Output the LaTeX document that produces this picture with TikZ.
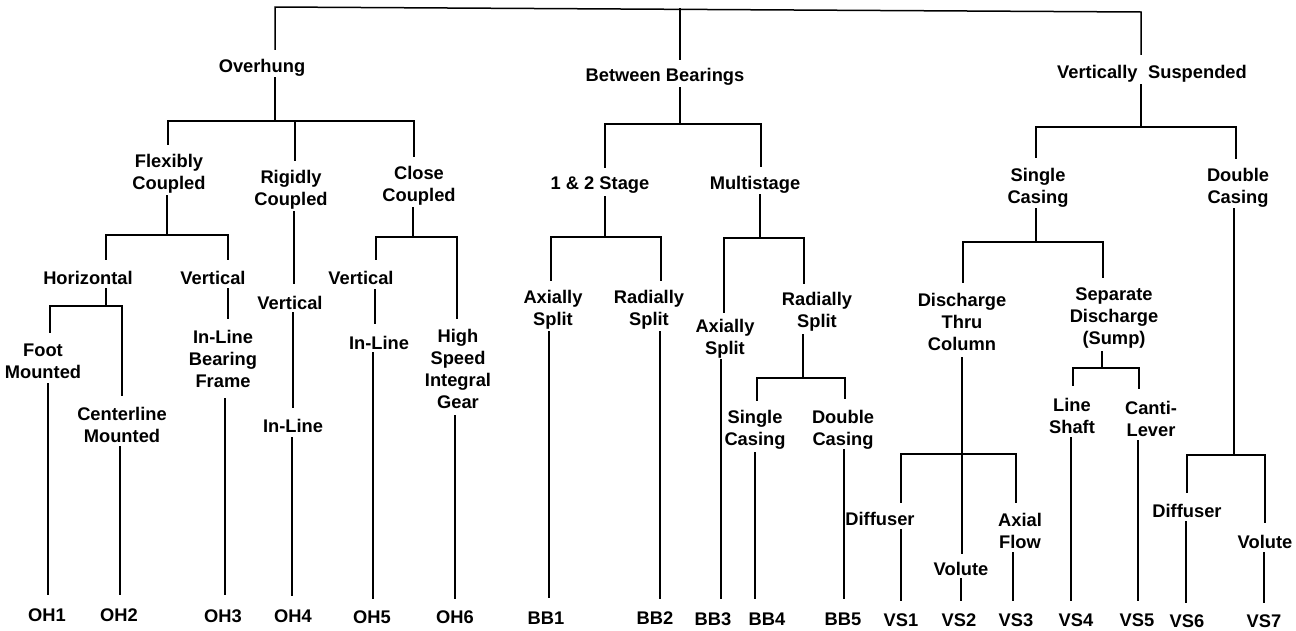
\documentclass[tikz,border=0pt]{standalone}
\usepackage{fontspec}
\setmainfont{Liberation Sans}
\begin{document}
\begin{tikzpicture}[x=1pt,y=-1pt,
  lbl/.style={font=\fontsize{18.3}{22}\selectfont\bfseries, align=center, inner sep=0pt, yshift=-1.5pt},
  code/.style={lbl, yshift=0pt},
  ln/.style={line width=1.5pt, line cap=rect}]
\useasboundingbox (0,0) rectangle (1296,630);
\fill[white] (0,0) rectangle (1296,630);
% ---- level 1
\node[lbl] (ovh) at (262,66) {Overhung};
\node[lbl] (bb)  at (665,75) {Between Bearings};
\node[lbl] (vs)  at (1152,72) {Vertically\hspace{0.3em} Suspended};
% ---- level 2
\node[lbl] (fc)  at (169,172) {Flexibly\\Coupled};
\node[lbl] (rc)  at (291,188) {Rigidly\\Coupled};
\node[lbl] (cc)  at (419,184) {Close\\Coupled};
\node[lbl] (s12) at (600,184) {1 \& 2 Stage};
\node[lbl] (ms)  at (755,183) {Multistage};
\node[lbl] (vsc) at (1038,186) {Single\\Casing};
\node[lbl] (vdc) at (1238,186) {Double\\Casing};
% ---- level 3
\node[lbl] (hor) at (88,276) {Horizontal};
\node[lbl] (fv)  at (213,276) {Vertical};
\node[lbl] (rv)  at (290,301) {Vertical};
\node[lbl] (cv)  at (361,276) {Vertical};
\node[lbl] (hs)  at (458,367) {High\\Speed\\Integral\\Gear};
\node[lbl] (ax1) at (553,308) {Axially\\Split};
\node[lbl] (rd1) at (649,308) {Radially\\Split};
\node[lbl] (ax3) at (725,337) {Axially\\Split};
\node[lbl] (rd2) at (817,310) {Radially\\Split};
\node[lbl] (dtc) at (962,320) {Discharge\\Thru\\Column};
\node[lbl] (sds) at (1114,317) {Separate\\Discharge\\(Sump)};
% ---- level 4
\node[lbl] (fm)  at (43,360) {Foot\\Mounted};
\node[lbl] (cm)  at (122,423) {Centerline\\Mounted};
\node[lbl] (ilb) at (223,357) {In-Line\\Bearing\\Frame};
\node[lbl] (il4) at (293,424) {In-Line};
\node[lbl] (il5) at (379,341) {In-Line};
\node[lbl] (sc4) at (755,428) {Single\\Casing};
\node[lbl] (dc5) at (843,428) {Double\\Casing};
\node[lbl] (df1) at (880,517) {Diffuser};
\node[lbl] (vo2) at (961,567) {Volute};
\node[lbl] (af3) at (1020,529) {Axial\\Flow};
\node[lbl] (ls4) at (1072,414) {Line\\Shaft};
\node[lbl] (cl5) at (1151,417) {Canti-\\Lever};
\node[lbl] (df6) at (1187,509) {Diffuser};
\node[lbl] (vo7) at (1265,540) {Volute};
% ---- codes
\node[code] (oh1) at (47,614) {OH1};
\node[code] (oh2) at (119,614) {OH2};
\node[code] (oh3) at (223,615) {OH3};
\node[code] (oh4) at (293,615) {OH4};
\node[code] (oh5) at (372,616) {OH5};
\node[code] (oh6) at (455,616) {OH6};
\node[code] (bb1) at (546,617) {BB1};
\node[code] (bb2) at (655,617) {BB2};
\node[code] (bb3) at (713,618) {BB3};
\node[code] (bb4) at (767,618) {BB4};
\node[code] (bb5) at (843,618) {BB5};
\node[code] (vs1) at (901,619) {VS1};
\node[code] (vs2) at (959,619) {VS2};
\node[code] (vs3) at (1016,619) {VS3};
\node[code] (vs4) at (1076,619) {VS4};
\node[code] (vs5) at (1137,619) {VS5};
\node[code] (vs6) at (1187,620) {VS6};
\node[code] (vs7) at (1264,620) {VS7};
% ================= lines
% root
\draw[ln] (275,49) -- (275,7) -- (1141,12) -- (1141,54);
\draw[ln] (680,9) -- (680,59);
% Overhung
\draw[ln] (275,78) -- (275,121);
\draw[ln] (168,144) -- (168,121) -- (414,121) -- (414,156);
\draw[ln] (295,121) -- (295,160);
% Flexibly coupled
\draw[ln] (167,196) -- (167,235);
\draw[ln] (106,259) -- (106,235) -- (228,235) -- (228,259);
\draw[ln] (106,289) -- (106,306);
\draw[ln] (50,332) -- (50,306) -- (122,306) -- (122,395);
\draw[ln] (48,384) -- (48,594);
\draw[ln] (120,447) -- (120,594);
\draw[ln] (228,289) -- (228,318);
\draw[ln] (225,399) -- (225,594);
% Rigidly coupled
\draw[ln] (294,212) -- (294,283);
\draw[ln] (293,313) -- (293,407);
\draw[ln] (292,438) -- (292,595);
% Close coupled
\draw[ln] (413,208) -- (413,237);
\draw[ln] (376,259) -- (376,237) -- (457,237) -- (457,318);
\draw[ln] (375,290) -- (375,323);
\draw[ln] (373,353) -- (373,598);
\draw[ln] (455,416) -- (455,598);
% Between bearings
\draw[ln] (680,88) -- (680,124);
\draw[ln] (605,167) -- (605,124) -- (761,124) -- (761,166);
\draw[ln] (605,197) -- (605,237);
\draw[ln] (551,280) -- (551,237) -- (661,237) -- (661,280);
\draw[ln] (549,332) -- (549,597);
\draw[ln] (660,332) -- (660,598);
\draw[ln] (760,195) -- (760,238);
\draw[ln] (724,312) -- (724,238) -- (804,238) -- (804,283);
\draw[ln] (721,360) -- (721,598);
\draw[ln] (803,335) -- (803,378);
\draw[ln] (757,400) -- (757,378) -- (845,378) -- (845,398);
\draw[ln] (755,453) -- (755,598);
\draw[ln] (844,450) -- (844,598);
% Vertically suspended
\draw[ln] (1141,85) -- (1141,127);
\draw[ln] (1036,157) -- (1036,127) -- (1236,127) -- (1236,158);
\draw[ln] (1036,209) -- (1036,242);
\draw[ln] (963,282) -- (963,242) -- (1103,242) -- (1103,277);
\draw[ln] (962,358) -- (962,553);
\draw[ln] (901,502) -- (901,454) -- (1016,454) -- (1016,502);
\draw[ln] (901,530) -- (901,600);
\draw[ln] (961,579) -- (961,600);
\draw[ln] (1013,553) -- (1013,600);
\draw[ln] (1102,352) -- (1102,368);
\draw[ln] (1073,385) -- (1073,368) -- (1139,368) -- (1139,388);
\draw[ln] (1071,438) -- (1071,600);
\draw[ln] (1138,441) -- (1138,600);
\draw[ln] (1234,209) -- (1234,455);
\draw[ln] (1187,492) -- (1187,455) -- (1265,455) -- (1265,522);
\draw[ln] (1186,522) -- (1186,602);
\draw[ln] (1264,553) -- (1264,602);
\end{tikzpicture}
\end{document}
